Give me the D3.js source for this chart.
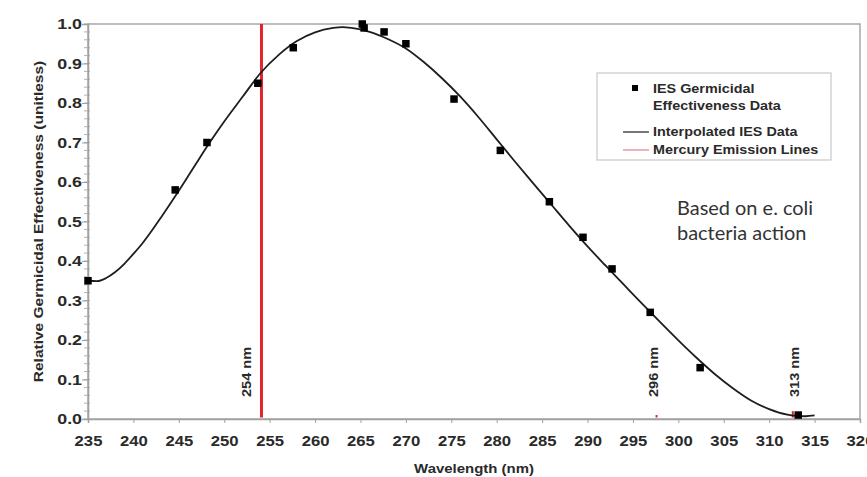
<!DOCTYPE html>
<html>
<head>
<meta charset="utf-8">
<script src="https://cdn.jsdelivr.net/npm/d3@7"></script>
<style>
  html, body { margin: 0; padding: 0; background: #fff; }
  svg { display: block; font-family: "Liberation Sans", Arial, sans-serif; }
  .tick-label { font-weight: bold; fill: #2a2a2a; }
  .axis-title { font-weight: bold; fill: #2a2a2a; }
  .legend-text { font-weight: bold; fill: #2a2a2a; font-size: 12.5px; }
  .note { font-family: Lato, "Open Sans", sans-serif; fill: #333; font-size: 19px; }
</style>
</head>
<body>
<svg id="chart" width="867" height="477"></svg>
<script>
// IES germicidal effectiveness data (wavelength nm, relative effectiveness)
const iesWavelength = [235, 244.6, 248.1, 253.7, 257.6, 265.2, 265.4, 267.6, 270.0, 275.3, 280.4, 285.8, 289.5, 292.7, 296.9, 302.4, 313.2];
const iesValue      = [0.35, 0.58, 0.70, 0.85, 0.94, 1.00, 0.99, 0.98, 0.95, 0.81, 0.68, 0.55, 0.46, 0.38, 0.27, 0.13, 0.01];

// interpolated curve
const curveWavelength = [235, 236, 237, 238, 239, 240, 241, 242, 243, 244, 245, 246, 247, 248, 249, 250, 252, 254, 256, 258, 260, 262, 263, 264, 266, 268, 270, 272, 274, 276, 278, 280, 282, 284, 286, 288, 290, 292, 294, 296, 298, 300, 302, 304, 306, 308, 310, 312, 313, 314, 315];
const curveValue      = [0.350, 0.349, 0.357, 0.372, 0.393, 0.418, 0.445, 0.476, 0.509, 0.543, 0.578, 0.614, 0.650, 0.686, 0.720, 0.753, 0.815, 0.876, 0.922, 0.957, 0.979, 0.990, 0.992, 0.990, 0.980, 0.962, 0.938, 0.903, 0.862, 0.816, 0.764, 0.708, 0.652, 0.597, 0.543, 0.489, 0.437, 0.388, 0.340, 0.292, 0.245, 0.199, 0.155, 0.114, 0.078, 0.047, 0.025, 0.011, 0.008, 0.007, 0.009];

// mercury emission lines: nominal label, drawn position, height
const mercuryLabel  = ["254 nm", "296 nm", "313 nm"];
const mercuryAt     = [254.1, 297.6, 312.6];
const mercuryHeight = [1.0, 0.01, 0.02];
const mercuryLabelAt = [252.4, 297.2, 312.7];

const xTicks = d3.range(235, 321, 5);
const yTicks = d3.range(0, 1.01, 0.1);
const yMinor = d3.range(0, 1.001, 0.02);

const legendItems = [
    {type: "square", text: ["IES Germicidal", "Effectiveness Data"]},
    {type: "line", color: "#555", text: ["Interpolated IES Data"]},
    {type: "line", color: "#e8a0b0", text: ["Mercury Emission Lines"]}
];
const noteLines = ["Based on e. coli", "bacteria action"];

const svg = d3.select("#chart");
const plot = {left: 88, right: 860, top: 24, bottom: 419};
const stretch = 1.15;

const x = d3.scaleLinear().domain([235, 320]).range([plot.left, plot.right]);
const y = d3.scaleLinear().domain([0, 1]).range([plot.bottom, plot.top]);

// frame
svg.append("rect")
    .attr("x", plot.left).attr("y", plot.top)
    .attr("width", plot.right - plot.left).attr("height", plot.bottom - plot.top)
    .attr("fill", "#fff").attr("stroke", "#a8a8a8").attr("stroke-width", 1.5);

// y minor ticks
svg.append("g").selectAll("line").data(yMinor).enter().append("line")
    .attr("x1", plot.left - 4).attr("x2", plot.left + 2)
    .attr("y1", d => y(d)).attr("y2", d => y(d))
    .attr("stroke", "#b0b0b0").attr("stroke-width", 1);

// y axis
const yAxis = d3.axisLeft(y).tickValues(yTicks).tickFormat(d3.format(".1f")).tickSize(6).tickPadding(5);
const gy = svg.append("g").attr("transform", `translate(${plot.left},0)`).call(yAxis);
gy.select(".domain").attr("stroke", "#a0a0a0").attr("stroke-width", 1.5);
gy.selectAll(".tick line").attr("stroke", "#a0a0a0");
gy.selectAll(".tick text").attr("class", "tick-label").style("font-size", "15.5px")
    .attr("transform", `scale(${stretch},1)`)
    .attr("x", -6 / stretch);

// x axis
const xAxis = d3.axisBottom(x).tickValues(xTicks).tickFormat(d3.format("d")).tickSize(4).tickPadding(13);
const gx = svg.append("g").attr("transform", `translate(0,${plot.bottom})`).call(xAxis);
gx.select(".domain").attr("stroke", "#a0a0a0").attr("stroke-width", 1.5);
gx.selectAll(".tick line").attr("stroke", "#a0a0a0");
gx.selectAll(".tick text").attr("class", "tick-label").style("font-size", "14.5px")
    .attr("transform", `scale(${stretch},1)`);

// axis titles
svg.append("text").attr("class", "axis-title")
    .attr("transform", `translate(${x(277.5)},473) scale(${stretch},1)`)
    .attr("text-anchor", "middle").style("font-size", "13px")
    .text("Wavelength (nm)");
svg.append("text").attr("class", "axis-title")
    .attr("transform", `translate(43,${(plot.top + plot.bottom) / 2}) rotate(-90) scale(${stretch},1)`)
    .attr("text-anchor", "middle").style("font-size", "13.5px")
    .text("Relative Germicidal Effectiveness (unitless)");

// mercury emission lines
const mercury = mercuryAt.map((a, i) => ({at: a, h: mercuryHeight[i], label: mercuryLabel[i], labelAt: mercuryLabelAt[i]}));
svg.append("g").selectAll("line").data(mercury).enter().append("line")
    .attr("x1", d => x(d.at)).attr("x2", d => x(d.at))
    .attr("y1", y(0) - 1.5).attr("y2", d => y(d.h))
    .attr("stroke", "#e0262b").attr("stroke-width", d => d.h > 0.5 ? 3 : 2);

svg.append("g").selectAll("text").data(mercury).enter().append("text")
    .attr("class", "axis-title")
    .attr("transform", d => `translate(${x(d.labelAt) + 5},397) rotate(-90) scale(1.08,1)`)
    .style("font-size", "13.5px")
    .text(d => d.label);

// interpolated curve
const curve = curveWavelength.map((w, i) => [w, curveValue[i]]);
svg.append("path")
    .datum(curve)
    .attr("fill", "none").attr("stroke", "#1e1e1e").attr("stroke-width", 1.8)
    .attr("d", d3.line().x(d => x(d[0])).y(d => y(d[1])).curve(d3.curveMonotoneX));

// data squares
const pts = iesWavelength.map((w, i) => [w, iesValue[i]]);
const sq = 7.5;
svg.append("g").selectAll("rect").data(pts).enter().append("rect")
    .attr("x", d => x(d[0]) - sq / 2).attr("y", d => y(d[1]) - sq / 2)
    .attr("width", sq).attr("height", sq).attr("fill", "#000");

// legend
const lg = svg.append("g").attr("transform", "translate(597,73)");
lg.append("rect").attr("width", 234).attr("height", 87)
    .attr("fill", "#fff").attr("stroke", "#c8c8c8").attr("stroke-width", 1.2);
const rowY = [20, 63, 81];
legendItems.forEach((it, i) => {
    const g = lg.append("g").attr("transform", `translate(0,${rowY[i]})`);
    if (it.type === "square") {
        g.append("rect").attr("x", 35).attr("y", -8).attr("width", 6).attr("height", 6).attr("fill", "#000");
    } else {
        g.append("line").attr("x1", 26).attr("x2", 52).attr("y1", -4).attr("y2", -4)
            .attr("stroke", it.color).attr("stroke-width", 1.6);
    }
    it.text.forEach((t, j) => {
        g.append("text").attr("class", "legend-text")
            .attr("transform", `translate(56,${j * 17}) scale(${stretch},1)`)
            .text(t);
    });
});

// note text
svg.append("g").selectAll("text").data(noteLines).enter().append("text")
    .attr("class", "note")
    .attr("transform", (d, i) => `translate(677,${215 + i * 25}) scale(1.05,1)`)
    .text(d => d);
</script>
</body>
</html>
